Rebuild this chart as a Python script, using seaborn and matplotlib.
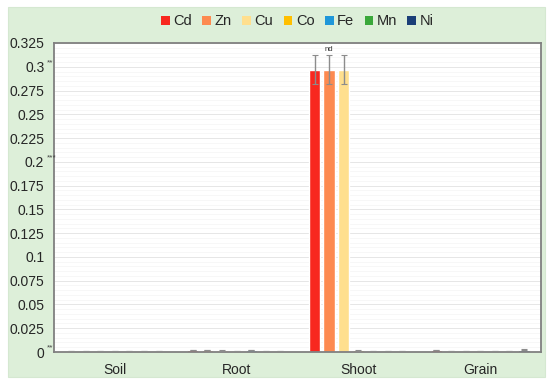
import numpy as np
import pandas as pd
import matplotlib.pyplot as plt
import seaborn as sns
from matplotlib.patches import Rectangle

# datos
organs = ["Soil", "Root", "Shoot", "Grain"]
metals = ["Cd", "Zn", "Cu", "Co", "Fe", "Mn", "Ni"]
colors = ["#f8281f", "#fd8a50", "#ffdf8e", "#ffbf00", "#1f97d9", "#3aa83a", "#1b3f78"]

soil = [0.001, 0.001, 0.001, 0.001, 0.001, 0.001, 0.001]
root = [0.0022, 0.0022, 0.0018, 0.001, 0.0022, 0.001, 0.001]
shoot = [0.297, 0.297, 0.297, 0.0018, 0.001, 0.001, 0.001]
grain = [0.0022, 0.001, 0.001, 0.001, 0.001, 0.001, 0.0025]

err_soil = [0.0003] * 7
err_root = [0.0003] * 7
err_shoot = [0.015, 0.015, 0.015, 0.0003, 0.0003, 0.0003, 0.0003]
err_grain = [0.0003] * 7

yticks = [0, 0.025, 0.05, 0.075, 0.1, 0.125, 0.15, 0.175, 0.2, 0.225, 0.25, 0.275, 0.3, 0.325]
ytick_labels = ["0", "0.025", "0.05", "0.075", "0.1", "0.125", "0.15", "0.175", "0.2",
                "0.225", "0.25", "0.275", "0.3", "0.325"]
stars = {0.3: "**", 0.2: "***", 0.0: "**"}

vals = [soil, root, shoot, grain]
errs = [err_soil, err_root, err_shoot, err_grain]
rows = []
for o, v, e in zip(organs, vals, errs):
    for m, val, er in zip(metals, v, e):
        rows.append({"organ": o, "metal": m, "value": val, "err": er})
df = pd.DataFrame(rows)

sns.set_style("white")
plt.rcParams["font.family"] = ["Liberation Sans", "DejaVu Sans"]

fig = plt.figure(figsize=(5.5, 3.85), dpi=100)
fig.patch.set_facecolor("white")
fondo = Rectangle((8 / 550, 8 / 385), 537 / 550, 370 / 385,
                  transform=fig.transFigure, facecolor="#ddefd9",
                  edgecolor="#d5e8d1", lw=0.8, zorder=-10)
fig.add_artist(fondo)

ax = fig.add_axes([54 / 550, 33 / 385, 487 / 550, 309 / 385])
ax.set_facecolor("white")

sns.barplot(data=df, x="organ", y="value", hue="metal", palette=colors,
            width=0.84, gap=0.22, saturation=1, errorbar=None, ax=ax, legend=True)

# barras de error
bar_conts = list(ax.containers)
for i, cont in enumerate(bar_conts):
    m = metals[i]
    sub = df[df["metal"] == m]
    xs = [p.get_x() + p.get_width() / 2 for p in cont.patches]
    ax.errorbar(xs, sub["value"].values, yerr=sub["err"].values, fmt="none",
                ecolor="#8c8c8c", elinewidth=1, capsize=2.2, capthick=0.8, zorder=5)

# nd sobre Zn en Shoot
zn_shoot = bar_conts[1].patches[2]
ax.text(zn_shoot.get_x() + zn_shoot.get_width() / 2, 0.3125 + 0.002, "nd",
        ha="center", va="bottom", fontsize=5.5, color="#333333")

ax.set_ylim(0, 0.325)
ax.set_xlim(-0.5, 3.5)
ax.set_yticks(yticks)
ax.set_yticklabels(ytick_labels, fontsize=10)
ax.set_yticks(np.arange(0, 0.325, 0.005), minor=True)
ax.grid(axis="y", which="major", color="#e6e6e6", lw=0.7)
ax.grid(axis="y", which="minor", color="#f4f4f4", lw=0.5)
ax.set_axisbelow(True)
ax.tick_params(axis="y", which="both", length=0, pad=7)
ax.tick_params(axis="x", length=0, labelsize=10, pad=8)
ax.set_xlabel("")
ax.set_ylabel("")

for s in ax.spines.values():
    s.set_color("#808080")
    s.set_linewidth(1.3)

for yv, st in stars.items():
    ax.text(-0.014, yv + 0.0005, st, transform=ax.get_yaxis_transform(),
            ha="left", va="bottom", fontsize=6, color="#444444")

leg = ax.legend(loc="upper center", bbox_to_anchor=(0.5, 1.135), ncol=7,
                frameon=False, fontsize=10.5, handlelength=0.6, handleheight=0.6,
                handletextpad=0.25, columnspacing=0.7)
for h in leg.legend_handles:
    h.set_edgecolor("none")

fig.savefig("out.png", dpi=100, facecolor=fig.get_facecolor())
